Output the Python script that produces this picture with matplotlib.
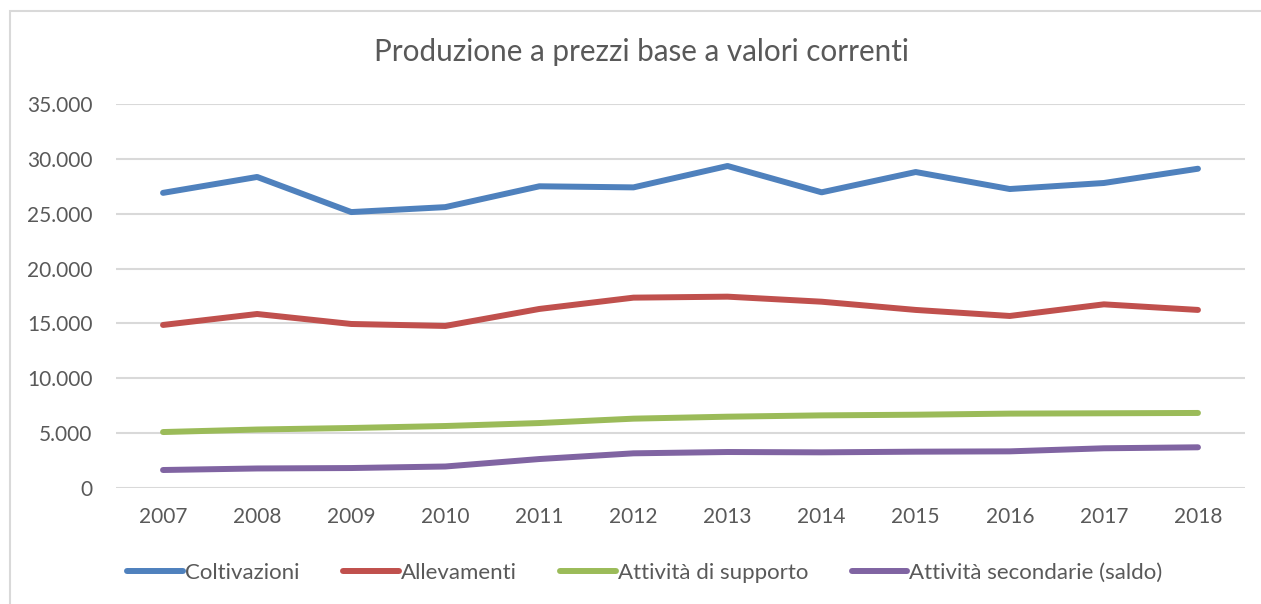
import matplotlib.pyplot as plt
from matplotlib.patches import Rectangle
from matplotlib.ticker import FuncFormatter

# Dati (valori correnti)
anni = ["2007", "2008", "2009", "2010", "2011", "2012",
        "2013", "2014", "2015", "2016", "2017", "2018"]
coltivazioni = [26900, 28350, 25150, 25600, 27500, 27400,
                29350, 26950, 28800, 27250, 27800, 29100]
allevamenti = [14860, 15860, 14950, 14770, 16320, 17350,
               17440, 16980, 16230, 15680, 16740, 16230]
supporto = [5100, 5330, 5470, 5650, 5920, 6320,
            6500, 6620, 6680, 6780, 6810, 6840]
secondarie = [1640, 1780, 1820, 1960, 2640, 3160,
              3280, 3250, 3310, 3340, 3620, 3710]

serie = [
    ("Coltivazioni", coltivazioni, "#4F81BD"),
    ("Allevamenti", allevamenti, "#C0504D"),
    ("Attività di supporto", supporto, "#9BBB59"),
    ("Attività secondarie (saldo)", secondarie, "#8064A2"),
]

plt.rcParams['font.family'] = ['Lato', 'DejaVu Sans']

fig = plt.figure(figsize=(12.61, 6.04), dpi=100)
ax = fig.add_axes([116 / 1261, 116 / 604, 1129 / 1261, 384 / 604])

# bordo del grafico
fig.patches.append(Rectangle((10 / 1261, -0.1), 1.2, (604 - 11) / 604 + 0.1,
                             transform=fig.transFigure, fill=False,
                             edgecolor="#D9D9D9", linewidth=1.5))

x = range(len(anni))
for nome, valori, colore in serie:
    ax.plot(x, valori, color=colore, linewidth=4.3, label=nome,
            solid_capstyle="round", solid_joinstyle="round", zorder=3)

ax.set_xlim(-0.5, len(anni) - 0.5)
ax.set_ylim(0, 35000)
ax.set_yticks(range(0, 35001, 5000))
ax.yaxis.set_major_formatter(FuncFormatter(lambda v, p: f"{int(v):,}".replace(",", ".")))
ax.set_xticks(list(x))
ax.set_xticklabels(anni)

ax.grid(axis="y", color="#D9D9D9", linewidth=1.5, zorder=0)
for s in ax.spines.values():
    s.set_visible(False)
ax.tick_params(axis="both", length=0, labelsize=15, colors="#595959")
ax.tick_params(axis="y", pad=17)
ax.tick_params(axis="x", pad=14)

fig.text(641 / 1261, 1 - 52 / 604, "Produzione a prezzi base a valori correnti",
         ha="center", va="center", fontsize=21.3, color="#595959")

fig.legend(loc="center", bbox_to_anchor=(645 / 1261, 1 - 573 / 604), ncol=4,
           frameon=False, fontsize=16, handlelength=2.5, handletextpad=0.1,
           columnspacing=1.95, labelcolor="#595959")

fig.savefig("out.png", dpi=100)
